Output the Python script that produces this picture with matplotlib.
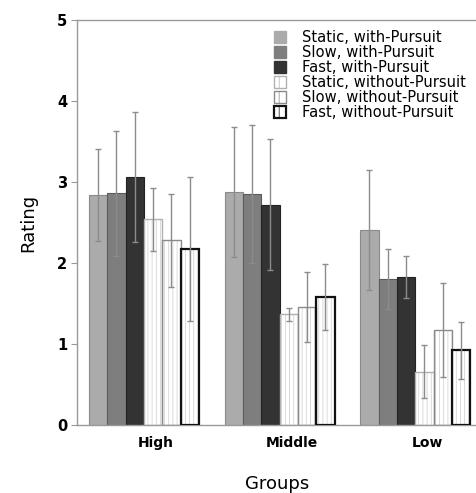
import matplotlib
matplotlib.use("Agg")
import matplotlib.pyplot as plt
import numpy as np
from matplotlib.patches import Patch

groups = ["High", "Middle", "Low"]
conditions = ["Static, with-Pursuit", "Slow, with-Pursuit", "Fast, with-Pursuit",
              "Static, without-Pursuit", "Slow, without-Pursuit", "Fast, without-Pursuit"]

# mean rating per condition, one value per group (High, Middle, Low)
static_with = [2.84, 2.88, 2.41]
slow_with = [2.86, 2.85, 1.80]
fast_with = [3.06, 2.72, 1.83]
static_without = [2.54, 1.37, 0.66]
slow_without = [2.28, 1.46, 1.17]
fast_without = [2.17, 1.58, 0.92]

# standard deviations
static_with_sd = [0.57, 0.80, 0.74]
slow_with_sd = [0.77, 0.85, 0.37]
fast_with_sd = [0.80, 0.81, 0.26]
static_without_sd = [0.39, 0.08, 0.33]
slow_without_sd = [0.57, 0.43, 0.58]
fast_without_sd = [0.89, 0.41, 0.35]

means = [static_with, slow_with, fast_with, static_without, slow_without, fast_without]
sds = [static_with_sd, slow_with_sd, fast_with_sd, static_without_sd, slow_without_sd, fast_without_sd]

fills = ["#ababab", "#7e7e7e", "#333333", "white", "white", "white"]
edges = ["#8a8a8a", "#5a5a5a", "#222222", "#b0b0b0", "#8a8a8a", "#111111"]
edge_lw = [0.8, 0.8, 0.8, 1.0, 1.0, 1.6]
hatches = [None, None, None, "||||", "||||", "||||"]

fig = plt.figure(figsize=(4.77, 4.93), dpi=100)
ax = fig.add_axes([0.161, 0.138, 0.839, 0.821])

x = np.arange(len(groups))
width = 0.135
plt.rcParams["hatch.linewidth"] = 0.5

for i in range(6):
    pos = x + (i - 2.5) * width
    if hatches[i]:
        ax.bar(pos, means[i], width, color="white", edgecolor="#cccccc",
               hatch=hatches[i], linewidth=0, zorder=2)
        ax.bar(pos, means[i], width, fill=False, edgecolor=edges[i],
               linewidth=edge_lw[i], zorder=3)
    else:
        ax.bar(pos, means[i], width, color=fills[i], edgecolor=edges[i],
               linewidth=edge_lw[i], zorder=2)
    ax.errorbar(pos, means[i], yerr=sds[i], fmt="none", ecolor="#8c8c8c",
                elinewidth=1.0, capsize=2.5, capthick=1.0, zorder=4)

ax.set_xlim(x[0] - 3 * width - 0.09, x[-1] + 3 * width + 0.05)
ax.set_ylim(0, 5)
ax.set_yticks([0, 1, 2, 3, 4, 5])
ax.set_xticks(x + 0.09)
ax.set_xticklabels(groups)
ax.tick_params(axis="x", length=0, pad=8, labelsize=10)
ax.tick_params(axis="y", length=4, color="#999999", labelsize=10.5, pad=3)

for lab in ax.get_xticklabels() + ax.get_yticklabels():
    lab.set_fontweight("semibold")

ax.spines["right"].set_visible(False)
for s in ["left", "bottom", "top"]:
    ax.spines[s].set_color("#999999")
    ax.spines[s].set_linewidth(1.0)

ax.set_ylabel("Rating", fontsize=13, labelpad=14)
ax.set_xlabel("Groups", fontsize=13, labelpad=18)

handles = []
for i in range(6):
    if hatches[i]:
        handles.append(Patch(facecolor="white", edgecolor=edges[i], hatch="||",
                             linewidth=edge_lw[i]))
    else:
        handles.append(Patch(facecolor=fills[i], edgecolor=fills[i]))
ax.legend(handles, conditions, loc="upper right", bbox_to_anchor=(0.995, 0.997),
          frameon=False, fontsize=10.6, handlelength=0.8, handleheight=0.85,
          handletextpad=1.1, labelspacing=0.0, borderaxespad=0.2)

fig.savefig("out.png", dpi=100)
